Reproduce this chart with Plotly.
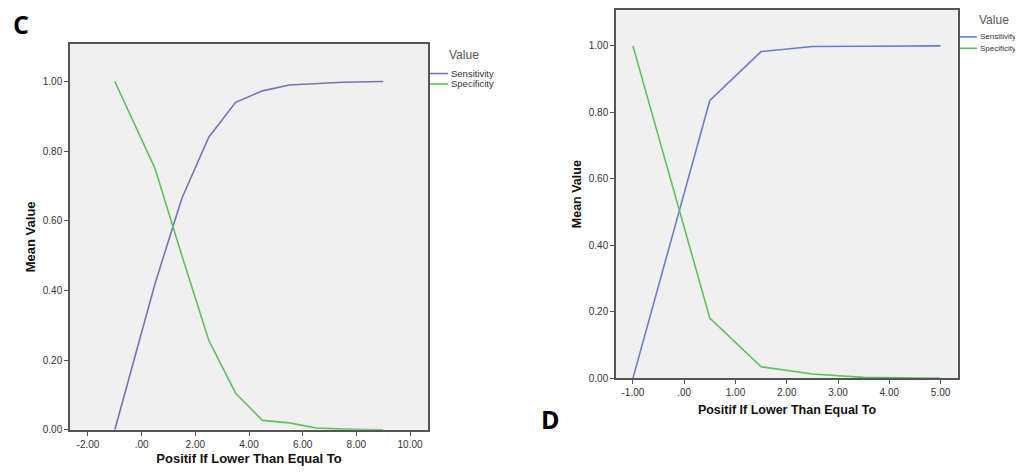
import plotly.graph_objects as go

# Panel C data
c_x = [-1.0, 0.5, 1.5, 2.5, 3.5, 4.5, 5.5, 6.5, 7.5, 9.0]
c_sens = [0.0, 0.42, 0.665, 0.84, 0.94, 0.973, 0.99, 0.993, 0.998, 1.0]
c_spec = [1.0, 0.75, 0.50, 0.257, 0.105, 0.027, 0.02, 0.005, 0.002, 0.0]

# Panel D data
d_x = [-1.0, 0.5, 1.5, 2.5, 3.5, 5.0]
d_sens = [0.0, 0.836, 0.983, 0.998, 0.999, 1.0]
d_spec = [1.0, 0.181, 0.035, 0.013, 0.003, 0.0]

c_xticks = [-2, 0, 2, 4, 6, 8, 10]
c_xlabels = ["-2.00", ".00", "2.00", "4.00", "6.00", "8.00", "10.00"]
d_xticks = [-1, 0, 1, 2, 3, 4, 5]
d_xlabels = ["-1.00", ".00", "1.00", "2.00", "3.00", "4.00", "5.00"]
y_ticks = [0, 0.2, 0.4, 0.6, 0.8, 1.0]
y_labels = ["0.00", "0.20", "0.40", "0.60", "0.80", "1.00"]

series_names = ["Sensitivity", "Specificity"]
legend_title = "Value"
x_title = "Positif If Lower Than Equal To"
y_title = "Mean Value"

# page body has an 8px margin; the page is slightly taller than the window
OFF = 8
W, H = 1023 - 2 * OFF, 458
SY = 0.973  # vertical fit factor of the captured page
BLUE_C = "#6f78b4"
BLUE_D = "#6a7dcc"
GREEN = "#5cc25c"
FONT = "Liberation Sans, Arial"


def px(x):
    return min(1.0, max(0.0, (x - OFF) / W))


def py(y):
    return min(1.0, max(0.0, 1 - (y / SY - OFF) / H))


fig = go.Figure()
fig.add_trace(go.Scatter(x=c_x, y=c_sens, mode="lines", name=series_names[0], showlegend=False,
                         line=dict(color=BLUE_C, width=1.6), xaxis="x", yaxis="y"))
fig.add_trace(go.Scatter(x=c_x, y=c_spec, mode="lines", name=series_names[1], showlegend=False,
                         line=dict(color=GREEN, width=1.6), xaxis="x", yaxis="y"))
fig.add_trace(go.Scatter(x=d_x, y=d_sens, mode="lines", name=series_names[0], showlegend=False,
                         line=dict(color=BLUE_D, width=1.6), xaxis="x2", yaxis="y2"))
fig.add_trace(go.Scatter(x=d_x, y=d_spec, mode="lines", name=series_names[1], showlegend=False,
                         line=dict(color=GREEN, width=1.6), xaxis="x2", yaxis="y2"))

tickfont = dict(family=FONT, size=10, color="#333333")
titlefont = dict(family=FONT, size=13, color="#111111")

axis_common = dict(showgrid=False, zeroline=False, showline=True, linecolor="#555555",
                   linewidth=1.5, mirror=True, ticks="outside", ticklen=4,
                   tickcolor="#555555", tickfont=tickfont)

shapes = []
annotations = []

# manual legends (title, line swatches, labels)
legend_specs = [
    (447, 53, 430, 448, 449, [72, 82.5], [BLUE_C, GREEN], 9.5),
    (977, 18, 960, 977, 978, [35, 46.5], [BLUE_D, GREEN], 8),
]
for tx, ty, lx0, lx1, txx, rows, cols, fs in legend_specs:
    annotations.append(dict(text=legend_title, x=px(tx), y=py(ty), xref="paper", yref="paper",
                            xanchor="left", yanchor="middle", showarrow=False,
                            font=dict(family=FONT, size=12, color="#555555")))
    for name, ry, col in zip(series_names, rows, cols):
        shapes.append(dict(type="line", xref="paper", yref="paper",
                           x0=px(lx0), x1=px(lx1), y0=py(ry), y1=py(ry),
                           line=dict(color=col, width=1.6)))
        annotations.append(dict(text=name, x=px(txx), y=py(ry), xref="paper", yref="paper",
                                xanchor="left", yanchor="middle", showarrow=False,
                                font=dict(family=FONT, size=fs, color="#333333")))

annotations.append(dict(text="<b>C</b>", x=px(11), y=py(22), xref="paper", yref="paper",
                        xanchor="left", yanchor="middle", showarrow=False,
                        font=dict(family="Open Sans, Noto Sans", size=25, color="black")))
annotations.append(dict(text="<b>D</b>", x=px(539), y=py(421), xref="paper", yref="paper",
                        xanchor="left", yanchor="middle", showarrow=False,
                        font=dict(family="Open Sans, Noto Sans", size=25, color="black")))

fig.update_layout(
    width=W, height=H,
    margin=dict(l=0, r=0, t=0, b=0),
    paper_bgcolor="white",
    plot_bgcolor="#f0f0f0",
    xaxis=dict(domain=[px(70), px(428)], range=[-2.67, 10.67], anchor="y",
               tickvals=c_xticks, ticktext=c_xlabels,
               title=dict(text="<b>" + x_title + "</b>", font=titlefont, standoff=7),
               **axis_common),
    yaxis=dict(domain=[py(432), py(42)], range=[0, 1.108], anchor="x",
               tickvals=y_ticks, ticktext=y_labels,
               title=dict(text="<b>" + y_title + "</b>", font=titlefont, standoff=4),
               **axis_common),
    xaxis2=dict(domain=[px(616), px(958)], range=[-1.33, 5.34], anchor="y2",
                tickvals=d_xticks, ticktext=d_xlabels,
                title=dict(text="<b>" + x_title + "</b>", font=dict(family=FONT, size=12.5, color="#111111"),
                           standoff=8),
                **axis_common),
    yaxis2=dict(domain=[py(380), py(7)], range=[0, 1.108], anchor="x2",
                tickvals=y_ticks, ticktext=y_labels,
                title=dict(text="<b>" + y_title + "</b>", font=dict(family=FONT, size=12.5, color="#111111"),
                           standoff=4),
                **axis_common),
    shapes=shapes,
    annotations=annotations,
)

fig.write_html("out.html")
